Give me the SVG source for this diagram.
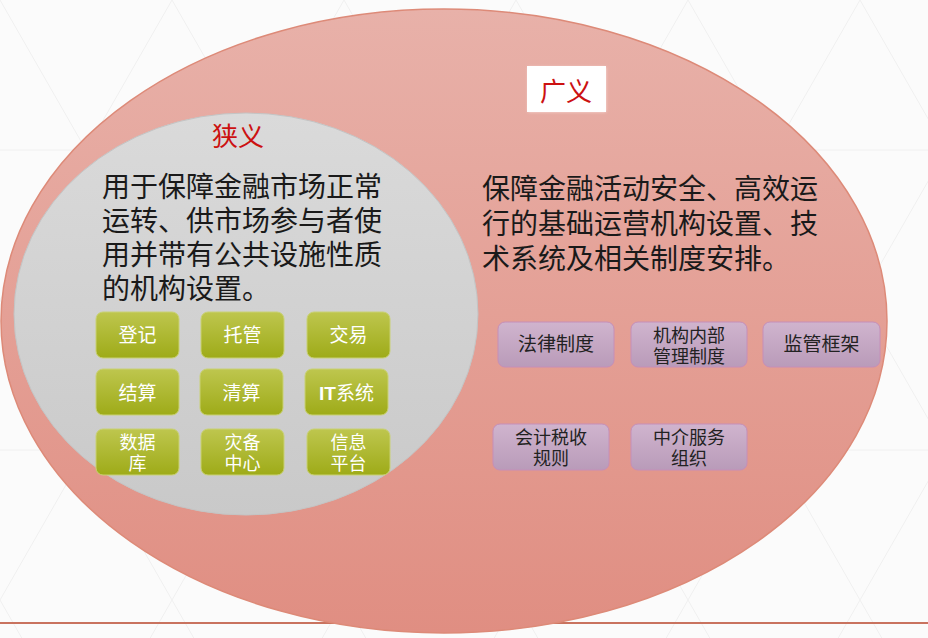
<svg xmlns="http://www.w3.org/2000/svg" width="928" height="638" viewBox="0 0 928 638">
<defs>
<linearGradient id="gOuter" x1="0" y1="0" x2="0" y2="1">
<stop offset="0" stop-color="#e8b1a9"/>
<stop offset="1" stop-color="#e08e82"/>
</linearGradient>
<linearGradient id="gGray" x1="0" y1="0" x2="0" y2="1">
<stop offset="0" stop-color="#dadada"/>
<stop offset="1" stop-color="#c9c9c9"/>
</linearGradient>
<linearGradient id="gGreen" x1="0" y1="0" x2="0" y2="1">
<stop offset="0" stop-color="#bec64e"/>
<stop offset="1" stop-color="#9eab18"/>
</linearGradient>
<linearGradient id="gPurple" x1="0" y1="0" x2="0" y2="1">
<stop offset="0" stop-color="#d0b4ce"/>
<stop offset="1" stop-color="#b99bb9"/>
</linearGradient>
<pattern id="tri" x="0" y="0" width="172" height="300" patternUnits="userSpaceOnUse">
<path d="M0 0 L86 150 L172 0 M0 300 L86 150 L172 300 M0 150 H172" fill="none" stroke="#f0f0f0" stroke-width="1"/>
</pattern>
<filter id="glow" x="-20%" y="-20%" width="140%" height="140%">
<feGaussianBlur stdDeviation="1.5"/>
</filter>
</defs>
<style>
.t{font-family:"Liberation Sans","Noto Sans CJK SC",sans-serif;}
.body{font-size:28px;fill:#1a1a1a;}
.title{font-size:26px;fill:#cc1111;text-anchor:middle;}
.g rect{fill:url(#gGreen);stroke:#c9d174;stroke-width:1;}
.g text{font-size:19px;fill:#ffffff;text-anchor:middle;}
.g text.s{font-size:18px;}
.p rect{fill:url(#gPurple);stroke:#c58eb8;stroke-width:1;}
.p text{font-size:19px;fill:#222222;text-anchor:middle;}
.p text.s{font-size:18px;}
</style>
<rect width="928" height="638" fill="#fbfbfb"/>
<rect width="928" height="638" fill="url(#tri)"/>
<line x1="0" y1="623" x2="928" y2="623" stroke="#c9735f" stroke-width="2"/>
<g id="broad">
<ellipse cx="444" cy="321" rx="443" ry="312" fill="url(#gOuter)" stroke="#dd8a78" stroke-width="1.5"/>
<rect x="528" y="67" width="78" height="45" fill="#ffffff" opacity="0.6" filter="url(#glow)"/>
<rect x="527" y="66" width="79" height="46" fill="#ffffff"/>
<text class="t title" x="566" y="101" font-size="27">广义</text>
<text class="t body" x="482" y="199">保障金融活动安全、高效运<tspan x="482" dy="35">行的基础运营机构设置、技</tspan><tspan x="482" dy="35">术系统及相关制度安排。</tspan></text>
</g>
<g id="narrow">
<ellipse cx="246" cy="314" rx="232" ry="201" fill="url(#gGray)" stroke="#c4c4c4" stroke-width="1"/>
<text class="t title" x="238" y="146" font-size="25">狭义</text>
<text class="t body" x="102" y="197">用于保障金融市场正常<tspan x="102" dy="34">运转、供市场参与者使</tspan><tspan x="102" dy="34">用并带有公共设施性质</tspan><tspan x="102" dy="34">的机构设置。</tspan></text>
</g>
<g id="n-dengji" class="g"><rect x="96" y="312" width="83" height="46" rx="7"/><text class="t" x="137.5" y="342">登记</text></g>
<g id="n-tuoguan" class="g"><rect x="201" y="312" width="83" height="46" rx="7"/><text class="t" x="242.5" y="342">托管</text></g>
<g id="n-jiaoyi" class="g"><rect x="307" y="312" width="83" height="46" rx="7"/><text class="t" x="348.5" y="342">交易</text></g>
<g id="n-jiesuan" class="g"><rect x="96" y="369" width="83" height="46" rx="7"/><text class="t" x="137.5" y="400">结算</text></g>
<g id="n-qingsuan" class="g"><rect x="200" y="369" width="83" height="46" rx="7"/><text class="t" x="241.5" y="400">清算</text></g>
<g id="n-it" class="g"><rect x="305" y="369" width="83" height="46" rx="7"/><text class="t" x="346.5" y="400"><tspan font-weight="bold">IT</tspan>系统</text></g>
<g id="n-shujuku" class="g"><rect x="96" y="429" width="83" height="46" rx="7"/><text class="t s" x="137.5" y="449">数据<tspan x="137.5" dy="21">库</tspan></text></g>
<g id="n-zaibei" class="g"><rect x="201" y="429" width="83" height="46" rx="7"/><text class="t s" x="242.5" y="449">灾备<tspan x="242.5" dy="21">中心</tspan></text></g>
<g id="n-xinxi" class="g"><rect x="307" y="429" width="83" height="46" rx="7"/><text class="t s" x="348.5" y="449">信息<tspan x="348.5" dy="21">平台</tspan></text></g>
<g id="n-falv" class="p"><rect x="498" y="322" width="116" height="45" rx="7"/><text class="t" x="556" y="351">法律制度</text></g>
<g id="n-jigou" class="p"><rect x="631" y="322" width="116" height="45" rx="7"/><text class="t s" x="689" y="342">机构内部<tspan x="689" dy="21">管理制度</tspan></text></g>
<g id="n-jianguan" class="p"><rect x="763" y="322" width="117" height="45" rx="7"/><text class="t" x="821.5" y="351">监管框架</text></g>
<g id="n-kuaiji" class="p"><rect x="493" y="424" width="116" height="46" rx="7"/><text class="t s" x="551" y="444">会计税收<tspan x="551" dy="21">规则</tspan></text></g>
<g id="n-zhongjie" class="p"><rect x="631" y="424" width="116" height="46" rx="7"/><text class="t s" x="689" y="444">中介服务<tspan x="689" dy="21">组织</tspan></text></g>
<g id="connectors"></g>
</svg>
